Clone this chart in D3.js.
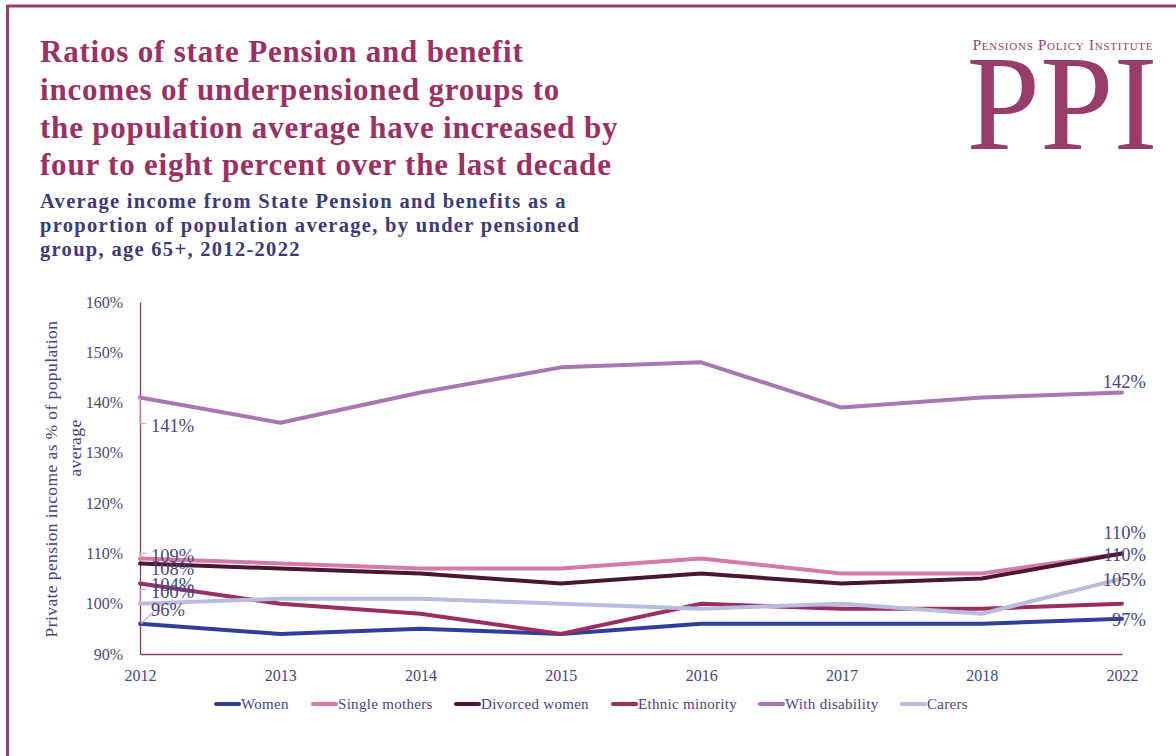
<!DOCTYPE html>
<html>
<head>
<meta charset="utf-8">
<script src="https://cdn.jsdelivr.net/npm/d3@7"></script>
<style>
  html, body { margin: 0; padding: 0; background: #fff; }
  svg { display: block; }
  text { font-family: "Liberation Serif", "Times New Roman", serif; }
</style>
</head>
<body>
<svg id="chart" width="1176" height="756"></svg>
<script>
// ---- Data -------------------------------------------------------------
const years = ["2012", "2013", "2014", "2015", "2016", "2017", "2018", "2022"];

const seriesNames = ["Women", "Single mothers", "Divorced women", "Ethnic minority", "With disability", "Carers"];

const women          = [96, 94, 95, 94, 96, 96, 96, 97];
const singleMothers  = [109, 108, 107, 107, 109, 106, 106, 110];
const divorcedWomen  = [108, 107, 106, 104, 106, 104, 105, 110];
const ethnicMinority = [104, 100, 98, 94, 100, 99, 99, 100];
const withDisability = [141, 136, 142, 147, 148, 139, 141, 142];
const carers         = [100, 101, 101, 100, 99, 100, 98, 105];

const yTicks = [90, 100, 110, 120, 130, 140, 150, 160];

const seriesColors = ["#2f3f99", "#d47aa8", "#4b1632", "#9a2e5f", "#a976b5", "#b9bce0"];

// Value labels shown at the ends of the lines: [series index, year index, dx, dy, anchor, leader]
const endLabels = [
  [4, 0, 11, 28, "start", true],
  [1, 0, 11, -3, "start", true],
  [2, 0, 11, 5, "start", false],
  [3, 0, 11, 1, "start", false],
  [5, 0, 11, -12, "start", true],
  [0, 0, 11, -14, "start", "diag"],
  [4, 7, 24, -11, "end", false],
  [1, 7, 24, -21, "end", false],
  [2, 7, 24, 1, "end", false],
  [5, 7, 24, 1, "end", false],
  [0, 7, 24, 1, "end", false]
];

const allSeries = [women, singleMothers, divorcedWomen, ethnicMinority, withDisability, carers];

// ---- Setup ------------------------------------------------------------
const svg = d3.select("#chart");
const W = 1176, H = 756;
const textColor = "#48457f";
const maroon = "#9c2f63";
const axisColor = "#8e3d66";

// Frame lines (top and left)
svg.append("line").attr("x1", 7).attr("x2", W).attr("y1", 6).attr("y2", 6)
  .attr("stroke", "#9e3a6e").attr("stroke-width", 3);
svg.append("line").attr("x1", 7.5).attr("x2", 7.5).attr("y1", 5).attr("y2", H)
  .attr("stroke", "#9e3a6e").attr("stroke-width", 3);

// Title
const titleLines = [
  "Ratios of state Pension and benefit",
  "incomes of underpensioned groups to",
  "the population average have increased by",
  "four to eight percent over the last decade"
];
svg.append("g").selectAll("text").data(titleLines).join("text")
  .attr("x", 40).attr("y", (d, i) => 62 + i * 37.8)
  .attr("fill", maroon).attr("font-weight", "bold").attr("font-size", 31)
  .attr("letter-spacing", 0.8)
  .text(d => d);

// Subtitle
const subtitleLines = [
  "Average income from State Pension and benefits as a",
  "proportion of population average, by under pensioned",
  "group, age 65+, 2012-2022"
];
svg.append("g").selectAll("text").data(subtitleLines).join("text")
  .attr("x", 40).attr("y", (d, i) => 208 + i * 24)
  .attr("fill", "#3e3a78").attr("font-weight", "bold").attr("font-size", 20.5)
  .attr("letter-spacing", 1.3)
  .text(d => d);

// Logo
const logo = svg.append("g").attr("fill", "#983d6a");
logo.append("text").attr("x", 1063).attr("y", 50).attr("text-anchor", "middle")
  .attr("font-size", 15).attr("letter-spacing", 0.75).style("font-variant", "small-caps")
  .text("Pensions Policy Institute");
logo.append("text").attr("x", 1062).attr("y", 149).attr("text-anchor", "middle")
  .attr("font-size", 136).attr("textLength", 191).attr("lengthAdjust", "spacingAndGlyphs")
  .text("PPI");

// ---- Scales -----------------------------------------------------------
const x = d3.scalePoint().domain(years).range([140, 1122]);
const y = d3.scaleLinear().domain([90, 160]).range([654, 302]);

// Axes
const yAxis = svg.append("g").attr("transform", "translate(140,0)")
  .call(d3.axisLeft(y).tickValues(yTicks).tickFormat(d => d + "%").tickSize(0).tickPadding(17));
yAxis.select(".domain").attr("stroke", axisColor).attr("stroke-width", 1.3);
yAxis.selectAll("text").attr("fill", textColor).attr("font-size", 16)
  .attr("font-family", "Liberation Serif");

const xAxis = svg.append("g").attr("transform", "translate(0,654)")
  .call(d3.axisBottom(x).tickSize(0).tickPadding(16));
xAxis.select(".domain").attr("stroke", axisColor).attr("stroke-width", 1.3);
xAxis.selectAll("text").attr("fill", textColor).attr("font-size", 16)
  .attr("font-family", "Liberation Serif");

// Y axis title
const yTitle = svg.append("g").attr("fill", textColor).attr("font-size", 17.5).attr("letter-spacing", 0.4);
yTitle.append("text").attr("transform", "translate(57,479) rotate(-90)")
  .attr("text-anchor", "middle").text("Private pension income as % of population");
yTitle.append("text").attr("transform", "translate(81,448) rotate(-90)")
  .attr("text-anchor", "middle").text("average");

// ---- Lines ------------------------------------------------------------
const line = d3.line().x((d, i) => x(years[i])).y(d => y(d));
svg.append("g").selectAll("path").data(allSeries).join("path")
  .attr("d", d => line(d))
  .attr("fill", "none")
  .attr("stroke", (d, i) => seriesColors[i])
  .attr("stroke-width", 4)
  .attr("stroke-linejoin", "round")
  .attr("stroke-linecap", "round");

// Leader lines for the left-hand labels
const leaderColor = "#e3a6c5";
const leaders = svg.append("g").attr("stroke", leaderColor).attr("stroke-width", 1.3).attr("fill", "none");
endLabels.forEach(([s, yi, dx, dy, anchor, leader]) => {
  if (!leader) return;
  const px = x(years[yi]), py = y(allSeries[s][yi]);
  const ly = py + dy - 2;
  if (leader === "diag") {
    leaders.append("path").attr("d", `M${px + 1},${py}L${px + 22},${ly - 4}`);
  } else {
    leaders.append("path").attr("d", `M${px},${py}L${px},${ly}L${px + 6},${ly}`);
  }
});

// Value labels
svg.append("g").selectAll("text").data(endLabels).join("text")
  .attr("x", d => x(years[d[1]]) + d[2])
  .attr("y", d => y(allSeries[d[0]][d[1]]) + d[3])
  .attr("dy", "0.35em")
  .attr("text-anchor", d => d[4])
  .attr("fill", textColor).attr("font-size", 18.5)
  .text(d => allSeries[d[0]][d[1]] + "%");

// ---- Legend -----------------------------------------------------------
const legendX = [214, 311, 454, 611, 758, 900];
const legend = svg.append("g").attr("transform", "translate(0,704)");
seriesNames.forEach((name, i) => {
  const g = legend.append("g").attr("transform", `translate(${legendX[i]},0)`);
  g.append("line").attr("x1", 2).attr("x2", 25).attr("y1", 0).attr("y2", 0)
    .attr("stroke", seriesColors[i]).attr("stroke-width", 4).attr("stroke-linecap", "round");
  g.append("text").attr("x", 27).attr("y", 0).attr("dy", "0.35em")
    .attr("fill", textColor).attr("font-size", 15).attr("letter-spacing", 0.3).text(name);
});
</script>
</body>
</html>
